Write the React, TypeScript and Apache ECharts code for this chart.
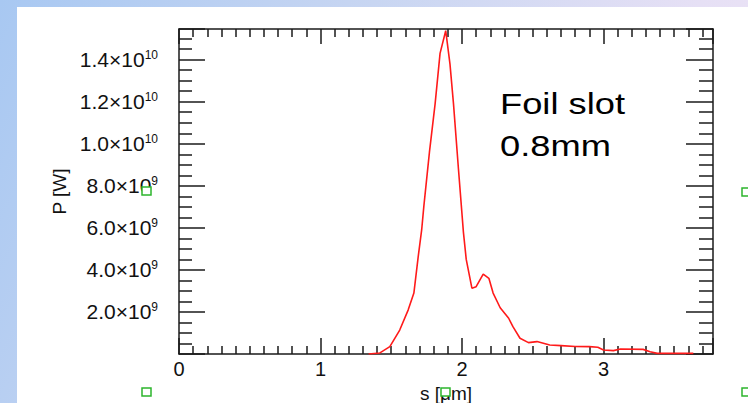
import React, { useEffect, useRef } from 'react';
import * as echarts from 'echarts';

// s in micrometres, P in units of 1e9 W
const S_UM = [1.34, 1.42, 1.49, 1.56, 1.62, 1.66, 1.69, 1.715, 1.73, 1.77, 1.81, 1.845, 1.885, 1.915, 1.94, 1.975, 2.01, 2.03, 2.07, 2.1, 2.15, 2.19, 2.22, 2.27, 2.33, 2.36, 2.41, 2.47, 2.53, 2.62, 2.7, 2.8, 2.9, 2.96, 3.0, 3.07, 3.12, 3.28, 3.33, 3.38, 3.635];
const P_GW = [0, 0.05, 0.35, 1.14, 2.1, 2.9, 4.6, 5.9, 7.0, 9.6, 11.9, 14.3, 15.38, 13.8, 11.9, 8.8, 5.8, 4.5, 3.13, 3.2, 3.8, 3.6, 2.9, 2.2, 1.7, 1.3, 0.75, 0.54, 0.59, 0.43, 0.4, 0.36, 0.35, 0.32, 0.19, 0.16, 0.24, 0.22, 0.11, 0.03, 0.03];

const X_MIN = 0;
const X_MAX = 3.774;
const X_INTERVAL = 1;
const Y_MIN = 0;
const Y_MAX = 1.546e10;
const Y_INTERVAL = 2e9;
const X_NAME = 's [μm]';
const Y_NAME = 'P [W]';
const ANNOTATION = ['Foil slot', '0.8mm'];

const FONT = '"Liberation Sans", Arial, Helvetica, sans-serif';

export default function App() {
  const ref = useRef<HTMLDivElement>(null);
  useEffect(() => {
    const chart = echarts.init(ref.current!, null, { renderer: 'svg' });
    const tickStyle = { color: '#1a1a1a', width: 1.5 };
    const axisLine = { show: true, onZero: false, lineStyle: { color: '#1a1a1a', width: 1.5 } };
    const xBase = {
      type: 'value' as const,
      min: X_MIN,
      max: X_MAX,
      interval: X_INTERVAL,
      splitLine: { show: false },
      axisLine,
    };
    const yBase = {
      type: 'value' as const,
      min: Y_MIN,
      max: Y_MAX,
      interval: Y_INTERVAL,
      splitLine: { show: false },
      axisLine,
    };
    chart.setOption({
      animation: false,
      backgroundColor: 'transparent',
      grid: { left: 179, right: 35, top: 29, bottom: 49, containLabel: false, outerBoundsMode: 'none' },
      xAxis: [
        {
          ...xBase,
          position: 'bottom',
          name: X_NAME,
          nameLocation: 'middle',
          nameGap: 26,
          nameTextStyle: { fontFamily: FONT, fontSize: 19, color: '#111', lineHeight: 20 },
          axisTick: { show: true, inside: true, length: 16, lineStyle: tickStyle },
          minorTick: { show: true, splitNumber: 10, length: 8, lineStyle: tickStyle },
          axisLabel: {
            show: true,
            margin: 5,
            fontFamily: FONT,
            fontSize: 20,
            color: '#111',
            showMaxLabel: false,
            formatter: (v: number) => (Math.abs(v - Math.round(v)) < 1e-6 ? String(Math.round(v)) : ''),
          },
        },
        {
          ...xBase,
          position: 'top',
          axisTick: { show: true, inside: true, length: 15, lineStyle: tickStyle },
          minorTick: { show: true, splitNumber: 10, length: 8, lineStyle: tickStyle },
          axisLabel: { show: false },
        },
      ],
      yAxis: [
        {
          ...yBase,
          position: 'left',
          name: Y_NAME,
          nameLocation: 'middle',
          nameRotate: 90,
          nameGap: 110,
          nameTextStyle: { fontFamily: FONT, fontSize: 19, color: '#111' },
          axisTick: { show: true, inside: true, length: 26, lineStyle: tickStyle },
          minorTick: { show: true, splitNumber: 4, length: 13, lineStyle: tickStyle },
          axisLabel: {
            show: true,
            margin: 21,
            showMaxLabel: false,
            formatter: (v: number) => {
              if (v <= 0 || v > 1.45e10) return '';
              const exp = Math.floor(Math.log10(v) + 1e-9);
              const m = (v / Math.pow(10, exp)).toFixed(1);
              return `{a|${m}×10}{b|${exp}}`;
            },
            rich: {
              a: { fontFamily: FONT, fontSize: 21, color: '#111', lineHeight: 22 },
              b: { fontFamily: FONT, fontSize: 12, color: '#111', verticalAlign: 'top', lineHeight: 22 },
            },
          },
        },
        {
          ...yBase,
          position: 'right',
          axisTick: { show: true, inside: true, length: 27, lineStyle: tickStyle },
          minorTick: { show: true, splitNumber: 4, length: 14, lineStyle: tickStyle },
          axisLabel: { show: false },
        },
      ],
      series: [
        {
          type: 'line',
          xAxisIndex: 0,
          yAxisIndex: 0,
          data: S_UM.map((s, i) => [s, P_GW[i] * 1e9]),
          showSymbol: false,
          symbol: 'none',
          smooth: false,
          lineStyle: { color: '#ff1a1a', width: 1.6 },
          z: 3,
        },
      ],
      graphic: [
        {
          type: 'text',
          x: 500,
          y: 83,
          scaleX: 1.21,
          z: 50,
          style: {
            text: ANNOTATION.join('\n'),
            fontFamily: FONT,
            fontSize: 30,
            lineHeight: 42,
            fill: '#000',
            verticalAlign: 'top',
          },
        },
        { type: 'rect', z: 100, shape: { x: 142, y: 187, width: 9, height: 8 }, style: { fill: '#fff', stroke: '#2db52d', lineWidth: 1.5 } },
        { type: 'rect', z: 100, shape: { x: 142, y: 388, width: 9, height: 8 }, style: { fill: '#fff', stroke: '#2db52d', lineWidth: 1.5 } },
        { type: 'rect', z: 100, shape: { x: 441, y: 388, width: 9, height: 8 }, style: { fill: '#fff', stroke: '#2db52d', lineWidth: 1.5 } },
        { type: 'rect', z: 100, shape: { x: 742, y: 188, width: 9, height: 8 }, style: { fill: '#fff', stroke: '#2db52d', lineWidth: 1.5 } },
        { type: 'rect', z: 100, shape: { x: 742, y: 388, width: 9, height: 8 }, style: { fill: '#fff', stroke: '#2db52d', lineWidth: 1.5 } },
      ],
    });
    return () => chart.dispose();
  }, []);
  return (
    <div
      style={{
        position: 'fixed',
        left: 0,
        top: 0,
        width: 748,
        height: 403,
        overflow: 'hidden',
        background: 'linear-gradient(115deg, #a8c8f2 0%, #c8d6f2 40%, #e6e0f5 75%, #f2e6f6 100%)',
      }}
    >
      <div style={{ position: 'absolute', left: 17, top: 7, right: 0, bottom: 0, background: '#fff' }} />
      <div ref={ref} style={{ position: 'absolute', left: 0, top: 0, width: 748, height: 403 }} />
    </div>
  );
}
